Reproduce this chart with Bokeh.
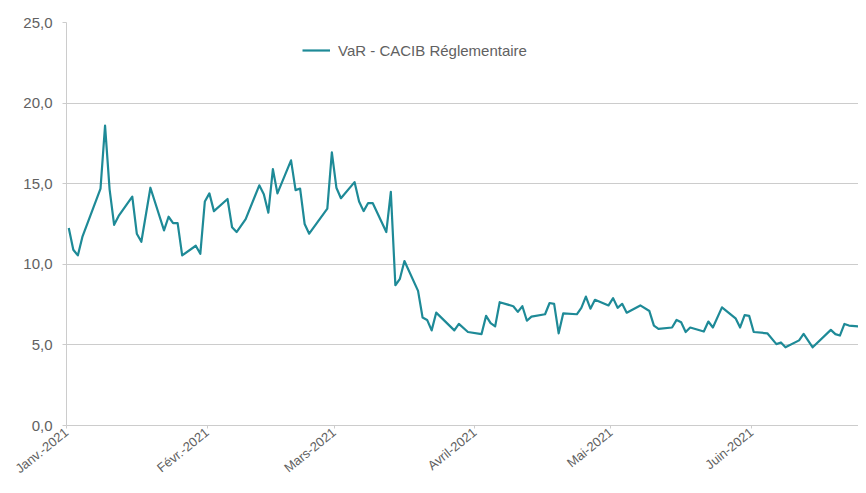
import pandas as pd
from bokeh.plotting import figure
from bokeh.models import (Range1d, FixedTicker, Legend, LegendItem,
                          CustomJSTickFormatter, ColumnDataSource)
from bokeh.embed import file_html
from bokeh.resources import INLINE

# ---------------- data ----------------
series_name = "VaR - CACIB Réglementaire"

dates = [
    "2021-01-01", "2021-01-02", "2021-01-03", "2021-01-04", "2021-01-08", "2021-01-09",
    "2021-01-10", "2021-01-11", "2021-01-12", "2021-01-15", "2021-01-16", "2021-01-17",
    "2021-01-19", "2021-01-22", "2021-01-23", "2021-01-24", "2021-01-25", "2021-01-26",
    "2021-01-29", "2021-01-30", "2021-01-31", "2021-02-01", "2021-02-02", "2021-02-05",
    "2021-02-06", "2021-02-07", "2021-02-09", "2021-02-12", "2021-02-13", "2021-02-14",
    "2021-02-15", "2021-02-16", "2021-02-19", "2021-02-20", "2021-02-21", "2021-02-22",
    "2021-02-23", "2021-02-27", "2021-02-28", "2021-03-01", "2021-03-02", "2021-03-05",
    "2021-03-06", "2021-03-07", "2021-03-08", "2021-03-09", "2021-03-12", "2021-03-13",
    "2021-03-14", "2021-03-15", "2021-03-16", "2021-03-19", "2021-03-20", "2021-03-21",
    "2021-03-22", "2021-03-23", "2021-03-27", "2021-03-28", "2021-03-30", "2021-04-02",
    "2021-04-03", "2021-04-04", "2021-04-05", "2021-04-06", "2021-04-09", "2021-04-10",
    "2021-04-11", "2021-04-12", "2021-04-13", "2021-04-16", "2021-04-17", "2021-04-18",
    "2021-04-19", "2021-04-20", "2021-04-23", "2021-04-24", "2021-04-25", "2021-04-26",
    "2021-04-27", "2021-04-30", "2021-05-01", "2021-05-02", "2021-05-03", "2021-05-04",
    "2021-05-07", "2021-05-09", "2021-05-10", "2021-05-11", "2021-05-14", "2021-05-15",
    "2021-05-16", "2021-05-17", "2021-05-18", "2021-05-21", "2021-05-22", "2021-05-23",
    "2021-05-25", "2021-05-28", "2021-05-29", "2021-05-30", "2021-05-31", "2021-06-01",
    "2021-06-04", "2021-06-06", "2021-06-07", "2021-06-08", "2021-06-11", "2021-06-12",
    "2021-06-14", "2021-06-18", "2021-06-19", "2021-06-20", "2021-06-21", "2021-06-22",
    "2021-06-24", "2021-06-26",
]

var_values = [
    12.25, 10.9, 10.55, 11.7, 14.7, 18.6,
    14.65, 12.45, 13.0, 14.2, 11.9, 11.4,
    14.75, 12.1, 12.95, 12.55, 12.55, 10.55,
    11.15, 10.65, 13.9, 14.4, 13.3, 14.05,
    12.3, 12.0, 12.8, 14.9, 14.35, 13.2,
    15.9, 14.4, 16.45, 14.6, 14.7, 12.5,
    11.9, 13.45, 16.95, 14.75, 14.1, 15.1,
    13.9, 13.3, 13.8, 13.8, 12.0, 14.5,
    8.7, 9.1, 10.2, 8.35, 6.7, 6.55,
    5.9, 7.0, 5.9, 6.3, 5.8, 5.67,
    6.8, 6.35, 6.15, 7.65, 7.4, 7.05,
    7.4, 6.5, 6.75, 6.9, 7.6, 7.55,
    5.72, 6.95, 6.9, 7.3, 8.0, 7.25,
    7.8, 7.45, 7.9, 7.3, 7.55, 7.0,
    7.45, 7.1, 6.2, 6.0, 6.08, 6.55,
    6.4, 5.8, 6.08, 5.83, 6.45, 6.08,
    7.33, 6.65, 6.08, 6.85, 6.8, 5.8,
    5.72, 5.05, 5.15, 4.85, 5.28, 5.68,
    4.85, 5.93, 5.67, 5.58, 6.3, 6.2,
    6.15, 5.83,
]

month_ticks = ["2021-01-01", "2021-02-01", "2021-03-01", "2021-04-01", "2021-05-01", "2021-06-01"]
month_labels = ["Janv.-2021", "Févr.-2021", "Mars-2021", "Avril-2021", "Mai-2021", "Juin-2021"]
y_ticks = [0, 5, 10, 15, 20, 25]

# ---------------- build ----------------
def to_ms(ts):
    return float(pd.Timestamp(ts).value / 1e6)

x_vals = pd.to_datetime(dates) + pd.Timedelta(hours=12)   # points centred on their day
source = ColumnDataSource(data=dict(x=x_vals, y=var_values))

x_start = to_ms("2021-01-01")
x_end = x_start + 174.6 * 86400000.0

FONT = "Liberation Sans"
GREY_TXT = "#616161"
GRID = "#cccccc"
LINE = "#1e8a97"

p = figure(width=858, height=485, x_axis_type="datetime",
           x_range=Range1d(x_start, x_end), y_range=Range1d(0, 25),
           output_backend="svg", toolbar_location=None,
           min_border_left=66, min_border_right=0, min_border_top=22, min_border_bottom=57)

p.outline_line_color = None
p.background_fill_color = "white"
p.border_fill_color = "white"

r = p.line("x", "y", source=source, line_color=LINE, line_width=2.2, line_join="round")

# x axis
tick_ms = [to_ms(t) for t in month_ticks]
xa = p.xaxis[0]
xa.ticker = FixedTicker(ticks=tick_ms)
xa.major_label_overrides = {t: lab for t, lab in zip(tick_ms, month_labels)}
xa.major_label_orientation = 0.68
xa.major_label_text_font = FONT
xa.major_label_text_font_size = "13px"
xa.major_label_text_color = GREY_TXT
xa.major_label_standoff = 2
xa.axis_line_color = GRID
xa.major_tick_line_color = GRID
xa.major_tick_out = 3
xa.major_tick_in = 0
xa.minor_tick_line_color = None

# y axis
ya = p.yaxis[0]
ya.ticker = FixedTicker(ticks=y_ticks)
ya.formatter = CustomJSTickFormatter(code="return tick.toFixed(1).replace('.', ',');")
ya.major_label_text_font = FONT
ya.major_label_text_font_size = "15px"
ya.major_label_text_color = GREY_TXT
ya.major_label_standoff = 10
ya.axis_line_color = GRID
ya.major_tick_line_color = GRID
ya.major_tick_out = 4
ya.major_tick_in = 0
ya.minor_tick_line_color = None

p.xgrid.grid_line_color = None
p.ygrid.grid_line_color = GRID
p.ygrid.grid_line_width = 1

legend = Legend(items=[LegendItem(label=series_name, renderers=[r])],
                location=(236, 365), orientation="horizontal",
                background_fill_alpha=0, border_line_alpha=0,
                padding=0, margin=0, spacing=0,
                glyph_width=28, glyph_height=20, label_standoff=8,
                label_text_font=FONT, label_text_font_size="15px",
                label_text_color=GREY_TXT)
p.add_layout(legend)

open("out.html", "w").write(file_html(p, INLINE))
